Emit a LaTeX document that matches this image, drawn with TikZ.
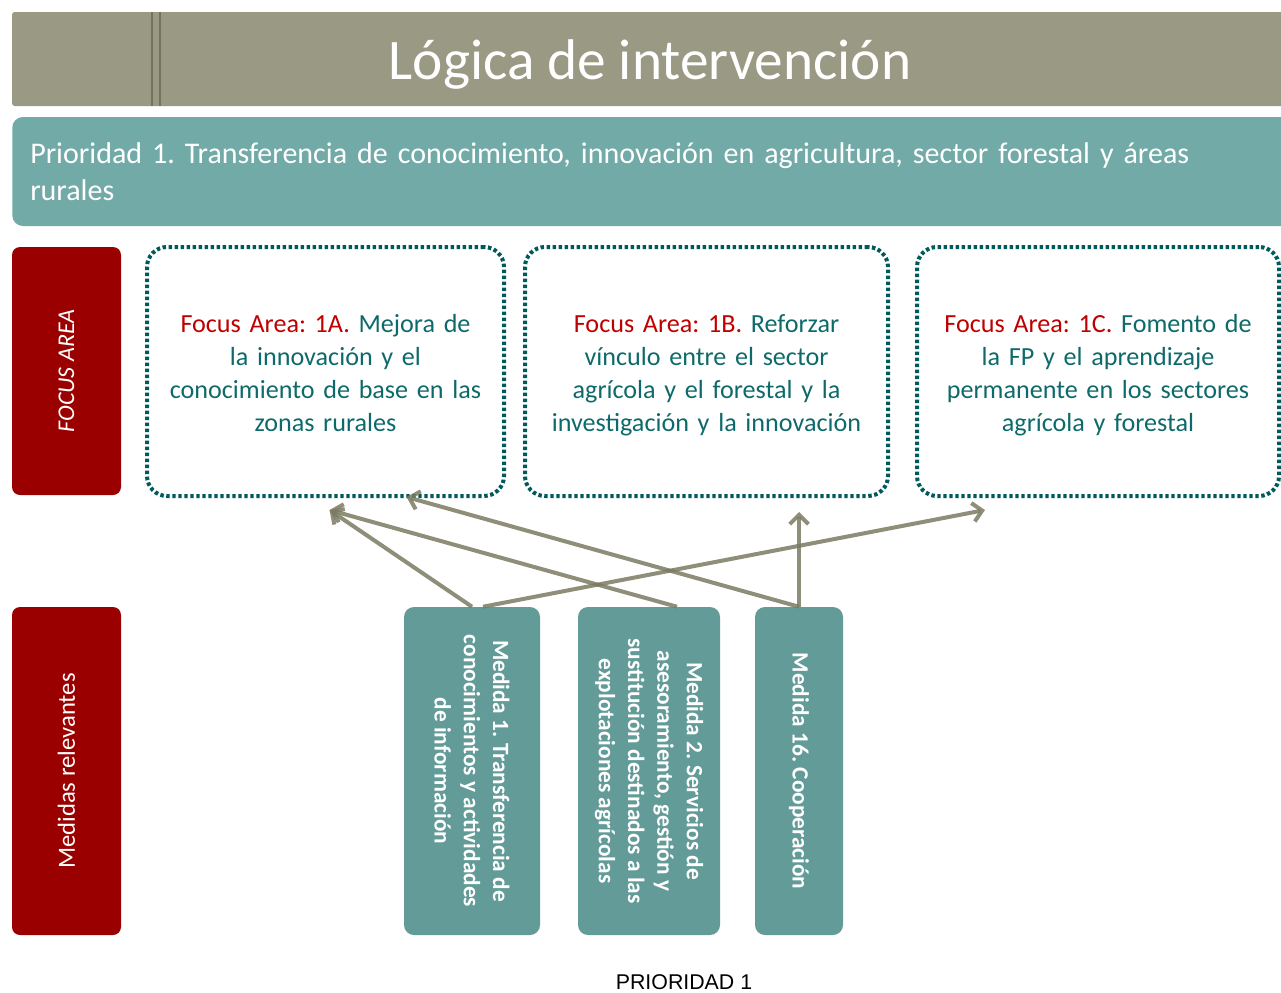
\documentclass[tikz,border=0pt]{standalone}
\usepackage{fontspec}
\setmainfont{Carlito}
\newfontfamily\arialf{Liberation Sans}
\usetikzlibrary{arrows.meta,calc}
\definecolor{titlegray}{HTML}{9A9A84}
\definecolor{titleline}{HTML}{74745E}
\definecolor{prioteal}{HTML}{72AAA8}
\definecolor{darkred}{HTML}{9B0000}
\definecolor{dotteal}{HTML}{005A5C}
\definecolor{fateal}{HTML}{0E6A6A}
\definecolor{fared}{HTML}{C00000}
\definecolor{medteal}{HTML}{629B98}
\definecolor{arrowcol}{HTML}{7A7A62}
\frenchspacing
\newcommand{\fastrut}{\rule{0pt}{19pt}}
\begin{document}
\begin{tikzpicture}[x=0.75pt,y=-0.75pt,
 titlebar/.style={fill=titlegray, minimum width=958.5pt, minimum height=70.5pt, inner sep=0pt, rounded corners=2pt},
 priobar/.style={fill=prioteal, text=white, rounded corners=8pt, inner xsep=13.5pt, inner ysep=0pt, minimum height=81.75pt, text width=939pt, align=left, font=\fontsize{22.5}{27.75}\selectfont},
 redbox/.style={fill=darkred, text=white, rounded corners=6pt, inner sep=0pt, minimum height=81.75pt, rotate=90},
 fabox/.style={draw=dotteal, line width=3pt, dash pattern=on 2.6pt off 1.9pt, rounded corners=15pt, minimum height=186.75pt, inner sep=0pt, text width=250pt, align=center, text=fateal, font=\fontsize{19.6}{24.75}\selectfont},
 medbox/.style={fill=medteal, text=white, rounded corners=7.5pt, rotate=-90, minimum width=246pt, inner sep=0pt, align=center, font=\bfseries\fontsize{17.5}{22}\selectfont},
 link/.style={draw=arrowcol, draw opacity=0.85, line width=3pt, -{Straight Barb[length=7pt,width=14pt]}},
 barline/.style={draw=titleline, line width=0.9pt},
 titletext/.style={text=white, inner sep=0pt, font=\fontsize{43}{50}\selectfont}
]
\useasboundingbox (0,0) rectangle (1281,992);
\clip (0,0) rectangle (1281,992);

% title bar
\node[titlebar] (title) at (651,59) {};
\draw[barline] (152,12) -- (152,106);
\draw[barline] (160,12) -- (160,106);
\node[titletext] (titletxt) at (650,65) {Lógica de intervención};

% priority bar
\node[priobar, anchor=west] (prio) at (12,171.5) {Prioridad 1. Transferencia de conocimiento, innovación en agricultura, sector forestal y áreas\\rurales};

% left red labels
\node[redbox, minimum width=186pt, font=\itshape\fontsize{18}{22}\selectfont] (lfa) at (66.5,371) {FOCUS AREA};
\node[redbox, minimum width=246pt, font=\fontsize{18.5}{22}\selectfont] (lmed) at (66.5,771) {Medidas relevantes};

% focus area boxes
\node[fabox, minimum width=267.75pt] (fa) at (325.5,371.5) {\fastrut{\color{fared}Focus Area: 1A.} Mejora de\\la innovación y el\\conocimiento de base en las\\zonas rurales\vphantom{g}};
\node[fabox, minimum width=272.25pt] (fb) at (706.5,371.5) {\fastrut{\color{fared}Focus Area: 1B.} Reforzar\\vínculo entre el sector\\agrícola y el forestal y la\\investigación y la innovación\vphantom{g}};
\node[fabox, minimum width=271.5pt] (fc) at (1098,371.5) {\fastrut{\color{fared}Focus Area: 1C.} Fomento de\\la FP y el aprendizaje\\permanente en los sectores\\agrícola y forestal\vphantom{g}};

% medida boxes (rotated: west anchor is the top)
\node[medbox, minimum height=102pt] (m1) at (472,771) {Medida 1. Transferencia de\\conocimientos y actividades\\de información};
\node[medbox, minimum height=106.5pt] (m2) at (649,771) {Medida 2. Servicios de\\asesoramiento, gestión y\\sustitución destinados a las\\explotaciones agrícolas};
\node[medbox, minimum height=66pt] (m16) at (799,771) {Medida 16. Cooperación};

% connectors
\draw[link] (m1.west) -- ($(fa.south)+(4,12)$);
\draw[link] ($(m2.west)+(28,0)$) -- ($(fa.south)+(4,12)$);
\draw[link] (m16.west) -- ($(fa.south)+(81,-1)$);
\draw[link] (m16.west) -- ($(fb.south)+(92.5,14)$);
\draw[link] ($(m1.west)+(11,0)$) -- ($(fc.south)+(-113,12)$);

% footer
\node[font=\arialf\fontsize{16}{19}\selectfont, inner sep=0pt] (foot) at (684,982) {PRIORIDAD 1};
\end{tikzpicture}
\end{document}
